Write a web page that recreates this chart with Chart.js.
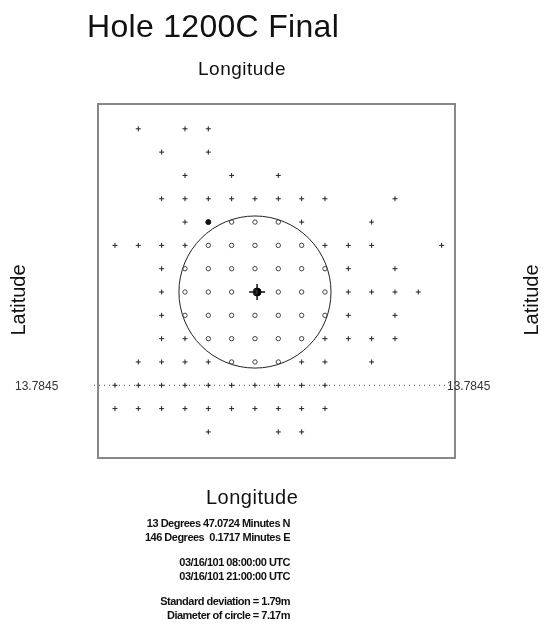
<!DOCTYPE html>
<html>
<head>
<meta charset="utf-8">
<title>Hole 1200C Final</title>
<script src="https://cdn.jsdelivr.net/npm/chart.js@4/dist/chart.umd.min.js"></script>
<style>
  body { margin: 0; background: #fff; }
  #page { position: relative; width: 545px; height: 640px; overflow: hidden; font-family: "Liberation Sans", Arial, sans-serif; color: #111; }
  #plot { position: absolute; left: 0; top: 0; }
  .txt { position: absolute; white-space: nowrap; line-height: 1; }
  #title { left: 87px; top: 10px; font-size: 32px; letter-spacing: 0.3px; }
  .lon { font-size: 19px; letter-spacing: 0.5px; }
  #lonTop { left: 198px; top: 59px; }
  #lonBottom { left: 206px; top: 487px; font-size: 20px; letter-spacing: 0.5px; }
  .lat { font-size: 20px; transform: rotate(-90deg); transform-origin: center; width: 80px; text-align: center; }
  #latLeft { left: -22px; top: 290px; }
  #latRight { left: 491px; top: 290px; }
  .ref { font-size: 12px; color: #333; }
  #refLeft { left: 15px; top: 380px; }
  #refRight { left: 447px; top: 380px; }
  #notes { position: absolute; right: 255px; top: 516px; font-family: "Liberation Sans Narrow", "Arial Narrow", sans-serif; font-weight: bold; font-size: 11px; line-height: 14px; letter-spacing: -0.5px; text-align: right; white-space: pre; }
  #notes .gap { height: 11px; }
</style>
</head>
<body>
<div id="page">
  <canvas id="plot" width="545" height="640"></canvas>
  <div class="txt" id="title">Hole 1200C Final</div>
  <div class="txt lon" id="lonTop">Longitude</div>
  <div class="txt lon" id="lonBottom">Longitude</div>
  <div class="txt lat" id="latLeft">Latitude</div>
  <div class="txt lat" id="latRight">Latitude</div>
  <div class="txt ref" id="refLeft"></div>
  <div class="txt ref" id="refRight"></div>
  <div id="notes"></div>
</div>
<script>
// fixes on a 1.1 m survey grid, metres east / north of the mean position
const northing = [7.7, 6.6, 5.5, 4.4, 3.3, 2.2, 1.1, 0, -1.1, -2.2, -3.3, -4.4, -5.5, -6.6];

// fixes outside the circle (drawn as +), one list of eastings per row
const crossEast = [
  [-5.5, -3.3, -2.2],
  [-4.4, -2.2],
  [-3.3, -1.1, 1.1],
  [-4.4, -3.3, -2.2, -1.1, 0, 1.1, 2.2, 3.3, 6.6],
  [-3.3, 2.2, 5.5],
  [-6.6, -5.5, -4.4, -3.3, 3.3, 4.4, 5.5, 8.8],
  [-4.4, 4.4, 6.6],
  [-4.4, 4.4, 5.5, 6.6, 7.7],
  [-4.4, 4.4, 6.6],
  [-4.4, -3.3, 3.3, 4.4, 5.5, 6.6],
  [-5.5, -4.4, -3.3, -2.2, 2.2, 3.3, 5.5],
  [-6.6, -5.5, -4.4, -3.3, -2.2, -1.1, 0, 1.1, 2.2, 3.3],
  [-6.6, -5.5, -4.4, -3.3, -2.2, -1.1, 0, 1.1, 2.2, 3.3],
  [-2.2, 1.1, 2.2],
];

// fixes inside the circle (drawn as small rings)
const ringEast = [
  [], [], [], [],
  [-1.1, 0, 1.1],
  [-2.2, -1.1, 0, 1.1, 2.2],
  [-3.3, -2.2, -1.1, 0, 1.1, 2.2, 3.3],
  [-3.3, -2.2, -1.1, 0, 1.1, 2.2, 3.3],
  [-3.3, -2.2, -1.1, 0, 1.1, 2.2, 3.3],
  [-2.2, -1.1, 0, 1.1, 2.2],
  [-1.1, 0, 1.1],
  [], [], [],
];

const flaggedFix = [{ x: -2.2, y: 3.3 }];
const meanFix = [{ x: 0.1, y: 0 }];
const circleCentre = { x: 0, y: 0 };
const circleDiameter = 7.17;
const stdDeviation = 1.79;
const refNorthing = -4.4;
const refLabel = "13.7845";
const eastRange = [-7.4, 9.43];
const northRange = [-7.83, 8.87];

const positionLines = ["13 Degrees 47.0724 Minutes N", "146 Degrees  0.1717 Minutes E"];
const timeLines = ["03/16/101 08:00:00 UTC", "03/16/101 21:00:00 UTC"];
const statLines = [`Standard deviation = ${stdDeviation}m`, `Diameter of circle = ${circleDiameter}m`];

function toPoints(eastRows) {
  return eastRows.flatMap((row, i) => row.map((x) => ({ x, y: northing[i] })));
}

document.querySelector("#refLeft").textContent = refLabel;
document.querySelector("#refRight").textContent = refLabel;
document.querySelector("#notes").innerHTML = [positionLines, timeLines, statLines]
  .map((group) => group.map((line) => `<div>${line}</div>`).join(""))
  .join('<div class="gap"></div>');

const overlay = {
  id: "overlay",
  beforeDatasetsDraw(chart) {
    const { ctx, chartArea, scales } = chart;
    const cx = scales.x.getPixelForValue(circleCentre.x);
    const cy = scales.y.getPixelForValue(circleCentre.y);
    const r = scales.x.getPixelForValue(circleCentre.x + circleDiameter / 2) - cx;
    ctx.save();
    ctx.strokeStyle = "#222";
    ctx.lineWidth = 1;
    ctx.beginPath();
    ctx.arc(cx, cy, r, 0, Math.PI * 2);
    ctx.stroke();

    const ry = scales.y.getPixelForValue(refNorthing);
    ctx.strokeStyle = "#444";
    ctx.setLineDash([1, 4]);
    ctx.beginPath();
    ctx.moveTo(chartArea.left - 4, ry);
    ctx.lineTo(chartArea.right + 4, ry);
    ctx.stroke();
    ctx.restore();
  },
  afterDraw(chart) {
    const { ctx, chartArea } = chart;
    ctx.save();
    ctx.strokeStyle = "#888";
    ctx.lineWidth = 2;
    ctx.strokeRect(chartArea.left, chartArea.top, chartArea.right - chartArea.left, chartArea.bottom - chartArea.top);
    ctx.restore();
  },
};

new Chart(document.querySelector("#plot"), {
  type: "scatter",
  data: {
    datasets: [
      { label: "outside", data: toPoints(crossEast), pointStyle: "cross", pointRadius: 2.5, borderColor: "#222", borderWidth: 1 },
      { label: "inside", data: toPoints(ringEast), pointStyle: "circle", pointRadius: 2.2, borderColor: "#444", backgroundColor: "rgba(0,0,0,0)", borderWidth: 1 },
      { label: "flagged", data: flaggedFix, pointStyle: "circle", pointRadius: 2.5, borderColor: "#111", backgroundColor: "#111", borderWidth: 1 },
      { label: "mean cross", data: meanFix, pointStyle: "cross", pointRadius: 8, borderColor: "#111", borderWidth: 1.5 },
      { label: "mean", data: meanFix, pointStyle: "circle", pointRadius: 4, borderColor: "#000", backgroundColor: "#000", borderWidth: 1 },
    ],
  },
  plugins: [overlay],
  options: {
    responsive: false,
    animation: false,
    layout: { padding: { left: 98, top: 104, right: 90, bottom: 182 } },
    plugins: { legend: { display: false }, tooltip: { enabled: false } },
    scales: {
      x: { type: "linear", display: false, min: eastRange[0], max: eastRange[1] },
      y: { type: "linear", display: false, min: northRange[0], max: northRange[1] },
    },
  },
});
</script>
</body>
</html>
